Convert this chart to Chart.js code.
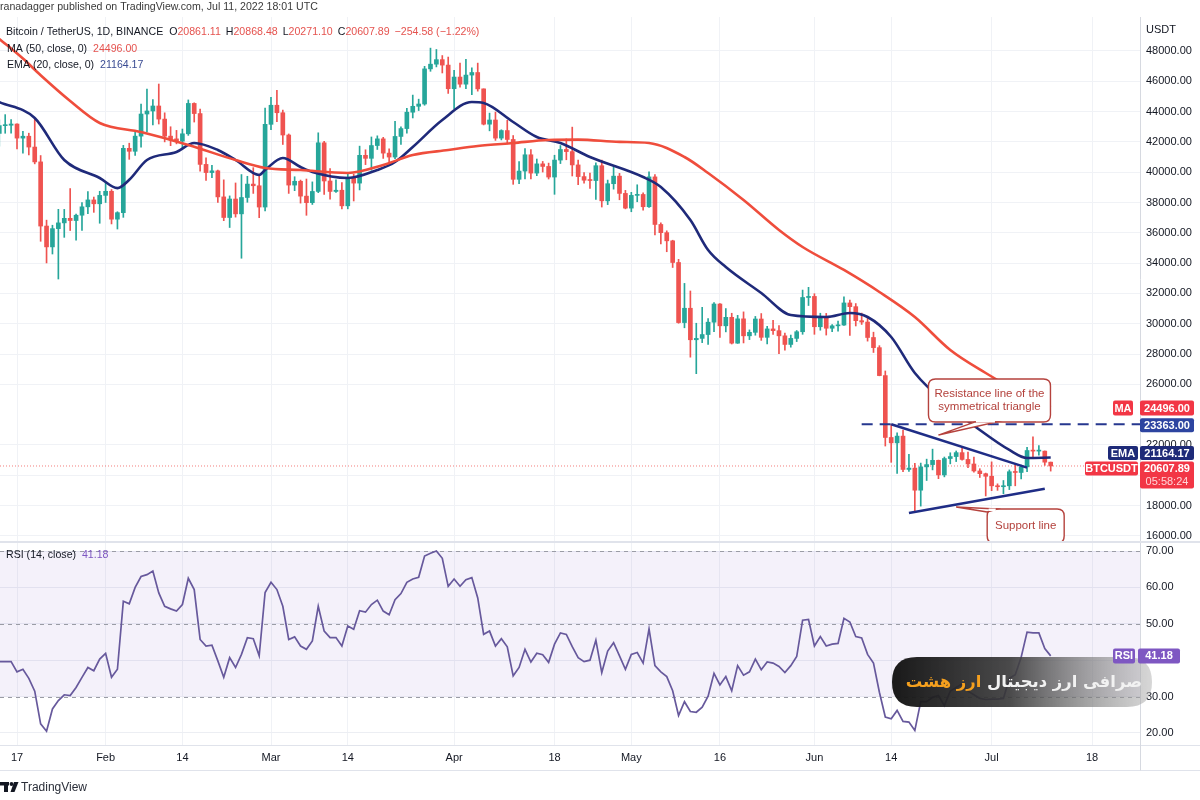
<!DOCTYPE html>
<html><head><meta charset="utf-8">
<script src="https://cdn.jsdelivr.net/npm/chart.js@4.4.1/dist/chart.umd.min.js"></script>
<style>
html,body{margin:0;padding:0;background:#fff;width:1200px;height:800px;overflow:hidden}
#p1{position:absolute;left:0;top:0;width:1200px;height:541px}
#p2{position:absolute;left:0;top:541px;width:1200px;height:259px}
</style></head><body>
<div id="p1"><canvas id="c1"></canvas></div>
<div id="p2"><canvas id="c2"></canvas></div>
<script>
// ---------------- DATA ----------------
const startDate = '01-14'; // 2022, daily candles, Binance BTC/USDT
const opens = [42560,43070,43100,43180,42250,42375,41660,40680,36445,35070,36275,36655,36955,36810,37160,37715,38170,37915,
 38470,38740,36900,37330,41575,41380,42380,43840,44040,44370,43505,42380,42200,42050,42535,44540,43870,40515,39975,40090,38370,37010,38230,37250,38330,39215,39105,37700,
 43160,44420,43925,42455,39150,39400,38420,37990,38730,41940,39420,38730,38810,37780,39670,39280,41115,40915,41760,42200,41260,41000,42360,42880,43960,44350,44500,46820,47130,47430,47070,
 45510,46280,45810,46410,46580,45500,43170,43445,42250,42750,42160,39530,40075,41150,39940,40550,40380,39680,40800,41500,41360,40480,39710,39470,39450,40430,38110,39240,39740,38600,
 37630,38470,38530,37720,39690,36550,36010,35470,34040,30075,31020,28940,29030,29285,30100,31300,29860,30420,28715,30320,29200,29430,30310,29100,29655,29540,29200,28630,29030,29470,31730,
 31800,29800,30450,29700,29860,29910,31370,31125,30200,30110,29090,28420,26575,22490,22135,22580,20380,20470,19010,20550,20700,20980,20020,21100,21230,21490,21040,20740,20280,20100,
 19930,19300,19240,19300,20230,20180,20550,21630,21590,21590,20861.11];
const highs = [43450,43800,43480,43200,42690,42575,43505,41100,36835,36500,37550,37545,38920,37235,38000,38720,38360,38740,
 39265,38855,37390,41770,41915,42655,44500,45490,44800,45820,43920,43000,42760,42850,44770,44580,44170,40950,40460,40135,39495,38435,39290,39845,39730,40300,39880,44230,
 44950,45400,44100,42525,39700,39480,39550,39360,42600,42040,40240,39490,39310,39950,39870,41720,41480,42325,42400,42300,41540,43360,43000,44220,45090,44820,46990,48190,48100,47700,47600,
 46720,47210,47450,46890,47200,45500,43900,43970,42800,43430,42420,40700,41560,41500,40870,40710,40600,41120,41760,42200,42975,40800,39980,39940,40620,40800,39480,40370,39920,38800,
 38670,39170,38640,40020,39850,36650,36130,35510,34250,32660,32160,30030,31080,30340,31400,31320,31000,30690,30550,30780,29590,30480,30670,29830,30220,29880,29380,29250,29550,32220,32400,
 31980,30690,30680,29940,30180,31770,31560,31330,30700,30380,29440,28550,26880,23363,22800,22980,21370,20780,20800,21060,21720,21000,21200,21480,21600,21860,21530,21200,20430,20140,
 20880,19430,19650,20350,20730,20670,21840,22530,21950,21600,20868.48];
const lows = [41725,42570,42580,41540,41250,41140,40550,35440,34010,34600,32950,35700,36150,35510,36155,37270,37350,36630,
 38000,36585,36250,37020,40850,41115,41645,42665,43120,43180,42000,41750,41870,41570,42430,43310,40075,39450,39635,38000,36800,36350,37035,34320,38015,38600,37000,37450,
 42800,43330,41830,38600,38780,37960,37155,37870,38650,38540,38220,38660,37580,37580,38100,38830,40500,40130,41500,40910,40510,40900,41840,42570,43580,44070,44420,46660,46950,46550,45200,
 44200,45620,45520,45120,45350,43120,42730,42100,42130,41870,39200,39250,39550,39550,39770,40010,39550,38540,40570,40820,39750,39180,39280,38930,38200,37700,37860,38880,38180,37580,
 37390,38050,37500,37670,35860,35260,34750,33710,30030,29730,27790,26700,28750,28630,29480,29090,29460,28660,28700,28730,28950,29240,28900,28660,29300,28020,28260,28450,28820,29300,31200,
 29300,29570,29250,29470,29500,29880,29220,29850,29950,28850,28100,26560,21925,20850,20110,20230,20250,17620,17960,19650,20350,19770,19890,20750,20900,21000,20500,20200,19850,18630,
 18980,19000,18780,19050,19300,19760,20240,21200,21320,20650,20271.10];
const closes = [43070,43100,43180,42250,42375,41660,40680,36445,35070,36275,36655,36955,36810,37160,37715,38170,37915,38470,
 38740,36900,37330,41575,41380,42380,43840,44040,44370,43505,42380,42200,42050,42535,44540,43870,40515,39975,40090,38370,37010,38230,37250,38330,39215,39105,37700,43160,
 44420,43925,42455,39150,39400,38420,37990,38730,41940,39420,38730,38810,37780,39670,39280,41115,40915,41760,42200,41260,41000,42360,42880,43960,44350,44500,46820,47130,47430,47070,45510,
 46280,45810,46410,46580,45500,43170,43445,42250,42750,42160,39530,40075,41150,39940,40550,40380,39680,40800,41500,41360,40480,39710,39470,39450,40430,38110,39240,39740,38600,37630,
 38470,38530,37720,39690,36550,36010,35470,34040,30075,31020,28940,29030,29285,30100,31300,29860,30420,28715,30320,29200,29430,30310,29100,29655,29540,29200,28630,29030,29470,31730,31800,
 29800,30450,29700,29860,29910,31370,31125,30200,30110,29090,28420,26575,22490,22135,22580,20380,20470,19010,20550,20700,20980,20020,21100,21230,21490,21040,20740,20280,20100,19930,
 19300,19240,19300,20230,20180,20550,21630,21590,21590,20860,20607.89];
const rsiValues = [39.6,39.6,39.6,36.8,37.5,35,31.5,22.5,20.5,26.6,28.9,30.5,30.3,32.5,35.3,38,37.1,40.3,
 41.9,35.3,37.5,56.2,55.5,60,63,63.5,64.5,58.5,54.8,54.1,53.5,55.3,62.5,59.4,45.7,43.9,44.1,39.8,35.3,40.7,38,41.6,46.2,45.9,41.2,58.6,
 61.4,59.4,54.8,45.7,46.4,43.9,43,45.3,54.8,48,46.2,46.2,43.9,49.4,48.5,53.6,53.2,55.3,56.5,53.5,52.5,56.6,58.3,61.4,62.3,62.8,68.6,69.4,70,68,60.3,
 62.3,60.3,62.1,62.7,57.1,47.1,48,43.9,45.9,43.7,35.7,38,43,39.5,41.9,41.5,39.4,44.4,47.5,47.1,43.7,40.7,39.6,40,45.5,36.6,42.5,44.8,41.2,37.5,
 41.6,42.1,39.2,48.6,38.5,36.8,35.5,31.6,24.8,28.6,25.9,25.7,27.1,30.1,36.4,33.2,35.5,31.6,38.5,35.9,36.8,40.3,37.4,39.5,39.2,38.3,36.6,38.5,41,51,51.2,
 43.9,46.5,43.9,44.4,44.6,51.5,50.5,46.5,46.1,41.6,39.2,31.2,24.4,23.9,26.2,23.2,23,20.7,28.6,28.6,29.8,30.3,27.5,31.5,32.5,33.5,31.5,30.5,29.5,29.2,
 29.3,29.3,29.5,35,36,40.8,47.7,47.5,47.5,43.2,41.18];
const maDates  = ['01-14','01-18','01-21','01-26','01-31','02-07','02-15','02-23','02-28','03-06','03-14','03-20','03-25','03-31','04-05','04-11','04-17','04-22','04-29','05-04','05-10','05-14','05-20','05-26','05-30','06-06','06-12','06-18','06-24','06-30','07-05','07-11'];
const maValues = [48800,47500,46400,44700,43250,42650,41800,40800,40280,40145,39950,40475,41135,41465,41729,41927,42125,42150,42000,41927,41003,39947,38165,36185,35063,33545,32093,30443,28265,26747,25625,24496];
const emaDates  = ['01-14','01-20','01-25','01-31','02-03','02-05','02-08','02-13','02-16','02-20','02-23','02-27','02-28','03-03','03-06','03-08','03-14','03-19','03-22','03-25','03-30','04-04','04-06','04-11','04-15','04-19','04-24','05-03','05-06','05-11','05-14','05-17','05-23','05-28','06-03','06-07','06-10','06-14','06-18','06-24','06-29','07-04','07-07','07-11'];
const emaValues = [44634,43578,40805,39617,38950,39500,40805,41333,41927,41465,40805,39815,40145,40937,40343,40013,39617,40145,40673,41663,43446,44634,44568,43314,42323,41927,41003,39683,39023,36845,34865,33743,32027,30575,30443,30707,30443,29123,26747,24503,22985,21665,21137,21164.17];
const resistanceDates = ['06-14','07-07'], resistanceValues = [23363, 20500];
const supportDates = ['06-17','07-10'], supportValues = [17505, 19100];
const keyLevelDates = ['06-09'], keyLevel = 23363;
const lastPrice = 20607.89, priceChange = -254.58, priceChangePct = -1.22, countdown = '05:58:24';
const priceTicks = [16000,18000,20000,22000,26000,28000,30000,32000,34000,36000,38000,40000,42000,44000,46000,48000];
const rsiTicks = [20,30,40,50,60,70];
const tickDates  = ['01-17','02-01','02-14','03-01','03-14','04-01','04-18','05-01','05-16','06-01','06-14','07-01','07-18'];
const tickLabels = ['17','Feb','14','Mar','14','Apr','18','May','16','Jun','14','Jul','18'];
const resistanceNote = ['Resistance line of the','symmetrical triangle'], resistanceNoteAt = ['06-22', 22650];
const supportNote = ['Support line'], supportNoteAt = ['06-25', 17900];
const watermarkMain = 'صرافی ارز دیجیتال', watermarkBrand = 'ارز هشت';

// ---------------- SETUP ----------------
const FONT = "'Liberation Sans', Arial, sans-serif";
Chart.defaults.font.family = FONT;
Chart.defaults.font.size = 11;
Chart.defaults.color = '#131722';
const dayOfYear = md => { const [m,d] = md.split('-').map(Number); return Math.round((Date.UTC(2022,m-1,d)-Date.UTC(2022,0,1))/86400000); };
const firstDay = dayOfYear(startDate);
const days = closes.map((_,i)=>firstDay+i);
const UP='#26a69a', DOWN='#ef5350';
const candleColors = closes.map((c,i)=> c>=opens[i]?UP:DOWN);
const viewStart = firstDay + 0.12, viewEnd = viewStart + 193;
const tickDays = tickDates.map(dayOfYear);
const GRID = '#f0f2f6';
const pts = (ds, vs) => ds.map((d,i)=>({x:dayOfYear(d), y:vs[i]}));
const noPad = s => { s.paddingTop=0; s.paddingBottom=0; s.paddingLeft=0; s.paddingRight=0; };

function rrect(ctx,x,y,w,h,r){ctx.beginPath();ctx.moveTo(x+r,y);ctx.lineTo(x+w-r,y);ctx.quadraticCurveTo(x+w,y,x+w,y+r);ctx.lineTo(x+w,y+h-r);ctx.quadraticCurveTo(x+w,y+h,x+w-r,y+h);ctx.lineTo(x+r,y+h);ctx.quadraticCurveTo(x,y+h,x,y+h-r);ctx.lineTo(x,y+r);ctx.quadraticCurveTo(x,y,x+r,y);ctx.closePath();}
function parts(ctx,x,y,list){let cx=x;for(const [t,c] of list){ctx.fillStyle=c;ctx.fillText(t,cx,y);cx+=ctx.measureText(t).width;}return cx;}
function badge(ctx,x,yc,w,h,bg,lines,fg){ctx.fillStyle=bg;rrect(ctx,x,yc-h/2,w,h,2);ctx.fill();ctx.fillStyle=fg||'#fff';ctx.textAlign='center';ctx.textBaseline='middle';
  const lh=13;lines.forEach((t,i)=>ctx.fillText(t,x+w/2,yc-(lines.length-1)*lh/2+i*lh+0.5));ctx.textAlign='left';}

const fmt = v => v.toFixed(2);

// ---------------- PRICE PANE ----------------
const pricePlugin = {
  id:'pricePlugin',
  afterDraw(chart){
    const ctx=chart.ctx, xs=chart.scales.x, ys=chart.scales.y;
    ctx.save();
    ctx.font='10.6px '+FONT; ctx.textBaseline='middle'; ctx.textAlign='left';
    ctx.fillStyle='#3a3a3a'; ctx.fillText('ranadagger published on TradingView.com, Jul 11, 2022 18:01 UTC',0,7);
    const RED='#e5534f', DARK='#131722';
    ctx.fillStyle=DARK; ctx.fillText('Bitcoin / TetherUS, 1D, BINANCE',6,32);
    const last=closes.length-1;
    let cx=6+ctx.measureText('Bitcoin / TetherUS, 1D, BINANCE').width+6;
    cx=parts(ctx,cx,32,[['O',DARK],[fmt(opens[last]),RED]])+5;
    cx=parts(ctx,cx,32,[['H',DARK],[fmt(highs[last]),RED]])+5;
    cx=parts(ctx,cx,32,[['L',DARK],[fmt(lows[last]),RED]])+5;
    cx=parts(ctx,cx,32,[['C',DARK],[fmt(closes[last]),RED]])+5;
    ctx.fillStyle=RED; ctx.fillText('\u2212'+Math.abs(priceChange).toFixed(2)+' (\u2212'+Math.abs(priceChangePct).toFixed(2)+'%)',cx,32);
    ctx.fillStyle=DARK; ctx.fillText('MA (50, close, 0)',7,49); ctx.fillStyle=RED; ctx.fillText(fmt(maValues[maValues.length-1]),93,49);
    ctx.fillStyle=DARK; ctx.fillText('EMA (20, close, 0)',7,65); ctx.fillStyle='#3a4c93'; ctx.fillText(fmt(emaValues[emaValues.length-1]),100,65);
    ctx.font='11px '+FONT; ctx.fillStyle=DARK; ctx.fillText('USDT',1146,30);

    // callouts
    const note=(at,lines,box,tail)=>{
      const ax=xs.getPixelForValue(dayOfYear(at[0])), ay=ys.getPixelForValue(at[1]);
      const bx=ax+box[0], by=ay+box[1], bw=box[2], bh=box[3];
      ctx.lineWidth=1.4; ctx.strokeStyle='#b5423d'; ctx.fillStyle='#fff';
      rrect(ctx,bx,by,bw,bh,7); ctx.fill(); ctx.stroke();
      ctx.beginPath(); ctx.moveTo(ax+tail[0],ay+tail[1]); ctx.lineTo(ax,ay); ctx.lineTo(ax+tail[2],ay+tail[3]); ctx.closePath();
      ctx.fillStyle='#fff'; ctx.fill(); ctx.stroke();
      ctx.fillStyle='#fff'; ctx.fillRect(ax+tail[0]+1.5,by+(tail[1]<0?bh-2:-0.5),tail[2]-tail[0]-3,2.5);
      ctx.fillStyle='#b3403b'; ctx.textAlign='center'; ctx.font='11.5px '+FONT;
      lines.forEach((t,i)=>ctx.fillText(t,bx+bw/2,by+bh/2-(lines.length-1)*6.5+i*13));
      ctx.textAlign='left';
    };
    note(resistanceNoteAt,resistanceNote,[-10,-56,122,43],[36,-13,58,-13]);
    note(supportNoteAt,supportNote,[31,2,77,34],[31,5,41,2]);

    // badges
    ctx.font='bold 11px '+FONT;
    const maV=maValues[maValues.length-1], emaV=emaValues[emaValues.length-1];
    const yMA=ys.getPixelForValue(maV)+1, yK=ys.getPixelForValue(keyLevel)+1, yE=ys.getPixelForValue(emaV)-4.5, yP=ys.getPixelForValue(lastPrice)+2.5;
    badge(ctx,1113,yMA,20,15,'#f23645',['MA']);
    badge(ctx,1140,yMA,54,15,'#f23645',[fmt(maV)]);
    badge(ctx,1140,yK,54,14,'#2d44a0',[fmt(keyLevel)]);
    badge(ctx,1108,yE,30,14,'#1e2a78',['EMA']);
    badge(ctx,1140,yE,54,14,'#1e2a78',[fmt(emaV)]);
    badge(ctx,1085,yP,53,14,'#f23645',['BTCUSDT']);
    ctx.fillStyle='#f23645'; rrect(ctx,1140,yP-7,54,27,2); ctx.fill();
    ctx.fillStyle='#fff'; ctx.textAlign='center'; ctx.fillText(fmt(lastPrice),1167,yP+0.5);
    ctx.fillStyle='#ffd5d8'; ctx.font='11px '+FONT; ctx.fillText(countdown,1167,yP+13.5);
    ctx.restore();
  }
};

new Chart(document.getElementById('c1'),{
  type:'bar',
  data:{datasets:[
    {type:'line',data:pts(resistanceDates,resistanceValues),borderColor:'#1f2d86',borderWidth:2.6,pointRadius:0,order:0},
    {type:'line',data:pts(supportDates,supportValues),borderColor:'#1f2d86',borderWidth:2.6,pointRadius:0,order:0},
    {type:'line',data:[{x:dayOfYear(keyLevelDates[0]),y:keyLevel},{x:viewEnd,y:keyLevel}],borderColor:'#26378f',borderWidth:2,borderDash:[11,7],pointRadius:0,order:0},
    {type:'line',data:pts(maDates,maValues),borderColor:'#ef4d3c',borderWidth:2.6,pointRadius:0,cubicInterpolationMode:'monotone',order:1},
    {type:'line',data:pts(emaDates,emaValues),borderColor:'#1f2a7a',borderWidth:2.6,pointRadius:0,cubicInterpolationMode:'monotone',order:1},
    {type:'bar',data:days.map((d,i)=>({x:d,y:[opens[i],closes[i]]})),backgroundColor:candleColors,barThickness:4,grouped:false,minBarLength:1,order:2},
    {type:'bar',data:days.map((d,i)=>({x:d,y:[lows[i],highs[i]]})),backgroundColor:candleColors,barThickness:1,grouped:false,order:3},
    {type:'line',data:[{x:viewStart,y:lastPrice},{x:viewEnd,y:lastPrice}],borderColor:'rgba(239,83,80,0.75)',borderWidth:1,borderDash:[1,2],pointRadius:0,order:6}
  ]},
  options:{
    responsive:true,maintainAspectRatio:false,animation:false,events:[],
    layout:{autoPadding:false,padding:{top:17,left:0,right:0,bottom:0}},
    plugins:{legend:{display:false},tooltip:{enabled:false}},
    scales:{
      x:{type:'linear',min:viewStart,max:viewEnd,offset:false,
        afterBuildTicks:s=>{s.ticks=tickDays.map(v=>({value:v}));},
        ticks:{display:false},grid:{color:GRID,drawTicks:false,offset:false},border:{display:false},
        afterFit:s=>{s.height=0;noPad(s);}},
      y:{type:'linear',position:'right',min:15657,max:50244,
        afterBuildTicks:s=>{s.ticks=priceTicks.map(v=>({value:v}));},
        ticks:{callback:v=>fmt(v),padding:6,color:'#131722',font:{size:11}},
        grid:{color:GRID,drawTicks:false},border:{display:true,color:'#d6d9e0'},
        afterFit:s=>{s.width=60;noPad(s);}}
    }
  },
  plugins:[pricePlugin]
});

// ---------------- RSI PANE ----------------
const rsiPlugin = {
  id:'rsiPlugin',
  beforeDatasetsDraw(chart){
    const ctx=chart.ctx, ys=chart.scales.y, ca=chart.chartArea;
    ctx.save();
    const y70=ys.getPixelForValue(70), y30=ys.getPixelForValue(30);
    ctx.fillStyle='rgba(126,87,194,0.085)'; ctx.fillRect(ca.left,y70,ca.right-ca.left,y30-y70);
    ctx.strokeStyle='#9a9ca5'; ctx.lineWidth=1; ctx.setLineDash([4,4]);
    [70,50,30].forEach(v=>{const y=Math.round(ys.getPixelForValue(v))+0.5;ctx.beginPath();ctx.moveTo(ca.left,y);ctx.lineTo(ca.right,y);ctx.stroke();});
    ctx.restore();
  },
  afterDraw(chart){
    const ctx=chart.ctx, ys=chart.scales.y, ca=chart.chartArea;
    ctx.save();
    ctx.strokeStyle='#e0e3eb'; ctx.lineWidth=2;
    ctx.beginPath(); ctx.moveTo(0,1); ctx.lineTo(1200,1); ctx.stroke();
    ctx.lineWidth=1;
    ctx.beginPath(); ctx.moveTo(0,ca.bottom+0.5); ctx.lineTo(1200,ca.bottom+0.5); ctx.stroke();
    ctx.beginPath(); ctx.moveTo(0,229.5); ctx.lineTo(1200,229.5); ctx.stroke();
    ctx.strokeStyle='#d6d9e0';
    ctx.beginPath(); ctx.moveTo(ca.right+0.5,ca.bottom); ctx.lineTo(ca.right+0.5,229.5); ctx.stroke();
    ctx.font='10.6px '+FONT; ctx.textBaseline='middle'; ctx.textAlign='left';
    parts(ctx,6,14,[['RSI (14, close)  ','#131722'],[fmt(rsiValues[rsiValues.length-1]),'#7e57c2']]);
    // footer logo
    ctx.fillStyle='#131722';
    ctx.fillRect(0,241,9,3.5); ctx.fillRect(4,241,4,10);
    ctx.beginPath(); ctx.arc(11.5,243,1.9,0,Math.PI*2); ctx.fill();
    ctx.beginPath(); ctx.moveTo(14,241); ctx.lineTo(18.5,241); ctx.lineTo(14.5,251); ctx.lineTo(10.5,251); ctx.closePath(); ctx.fill();
    ctx.font='12px '+FONT; ctx.fillStyle='#2a2e39'; ctx.fillText('TradingView',21,246.5);
    // watermark pill
    const px=892, py=116, pw=260, ph=50;
    const g=ctx.createLinearGradient(px,0,px+pw,0);
    g.addColorStop(0,'rgba(18,18,18,0.97)'); g.addColorStop(0.45,'rgba(55,55,55,0.9)'); g.addColorStop(1,'rgba(175,175,175,0.5)');
    ctx.fillStyle=g; rrect(ctx,px,py,pw,ph,25); ctx.fill();
    let fs=22; ctx.font='bold '+fs+'px "DejaVu Sans", sans-serif';
    const tot=ctx.measureText(watermarkMain+' '+watermarkBrand).width;
    fs=fs*236/tot; ctx.font='bold '+fs.toFixed(1)+'px "DejaVu Sans", sans-serif';
    ctx.direction='rtl'; ctx.textAlign='right'; ctx.textBaseline='middle';
    const wMain=ctx.measureText(watermarkMain).width, wSp=ctx.measureText(' ').width;
    ctx.fillStyle='#f2f2f2'; ctx.fillText(watermarkMain,1142,py+ph/2+1);
    ctx.fillStyle='#f5a01e'; ctx.fillText(watermarkBrand,1142-wMain-wSp,py+ph/2+1);
    ctx.direction='ltr';
    // RSI badge (above the pill)
    ctx.font='bold 11px '+FONT;
    const yR=ys.getPixelForValue(rsiValues[rsiValues.length-1]);
    badge(ctx,1113,yR,22,15,'#7e57c2',['RSI']);
    badge(ctx,1138,yR,42,15,'#7e57c2',[fmt(rsiValues[rsiValues.length-1])]);
    ctx.restore();
  }
};

new Chart(document.getElementById('c2'),{
  type:'line',
  data:{datasets:[
    {data:days.map((d,i)=>({x:d,y:rsiValues[i]})),borderColor:'#67599c',borderWidth:1.7,pointRadius:0,tension:0}
  ]},
  options:{
    responsive:true,maintainAspectRatio:false,animation:false,events:[],
    layout:{autoPadding:false,padding:{top:0,left:0,right:0,bottom:30}},
    plugins:{legend:{display:false},tooltip:{enabled:false}},
    scales:{
      x:{type:'linear',min:viewStart,max:viewEnd,offset:false,
        afterBuildTicks:s=>{s.ticks=tickDays.map(v=>({value:v}));},
        ticks:{callback:(v,i)=>tickLabels[i],autoSkip:false,maxRotation:0,padding:6,color:'#131722',font:{size:11}},
        grid:{color:GRID,drawTicks:false},border:{display:false},
        afterFit:s=>{s.height=25;noPad(s);}},
      y:{type:'linear',position:'right',min:16.7,max:72.75,
        afterBuildTicks:s=>{s.ticks=rsiTicks.map(v=>({value:v}));},
        ticks:{callback:v=>fmt(v),padding:6,color:'#131722',font:{size:11}},
        grid:{color:'#eceef3',drawTicks:false},border:{display:true,color:'#d6d9e0'},
        afterFit:s=>{s.width=60;noPad(s);}}
    }
  },
  plugins:[rsiPlugin]
});
</script>
</body></html>
